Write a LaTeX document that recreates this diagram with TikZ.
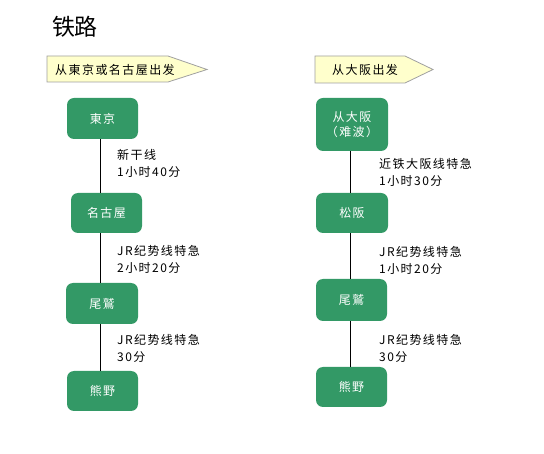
\documentclass[tikz,border=0pt]{standalone}
\usepackage{fontspec}
\setmainfont{Noto Sans CJK SC}
\newfontfamily\widecjk[LetterSpace=12]{Noto Sans CJK SC}
\definecolor{boxgreen}{HTML}{339966}
\definecolor{bannerfill}{HTML}{FFFFCC}
\definecolor{bannerline}{HTML}{A0A0A0}
\begin{document}
\begin{tikzpicture}[x=1pt,y=-1pt,
  station/.style={fill=boxgreen, rounded corners=7pt, text=white, font=\widecjk\fontsize{12}{15}\selectfont, align=center, inner sep=0pt},
  route/.style={anchor=west, align=left, font=\widecjk\fontsize{12}{17}\selectfont, inner sep=0pt},
  bannertext/.style={anchor=west, font=\widecjk\fontsize{12}{14}\selectfont, inner sep=0pt},
  conn/.style={draw=black, line width=0.8pt},
  banner/.style={fill=bannerfill, draw=bannerline, line width=0.8pt}]
\useasboundingbox (0,0) rectangle (544,454);
\node[anchor=center, font=\fontsize{23}{26}\selectfont, inner sep=0pt] (title) at (75,27) {铁路};
% banners
\draw[banner] (47,56) -- (168,56) -- (207,69.5) -- (168,82) -- (47,82) -- cycle;
\node[bannertext] (b1) at (55,69.5) {从東京或名古屋出发};
\draw[banner] (315,56) -- (405,56) -- (433,69.5) -- (405,83) -- (315,83) -- cycle;
\node[bannertext] (b2) at (332,69.5) {从大阪出发};
% left column
\coordinate (L) at (100,0);
\node[station, minimum width=71pt, minimum height=41pt] (tokyo) at (102.5,118.5) {東京};
\node[station, minimum width=71pt, minimum height=40pt] (nagoya) at (106.5,213) {名古屋};
\node[station, minimum width=72pt, minimum height=41pt] (owase1) at (102,303.5) {尾鷲};
\node[station, minimum width=71pt, minimum height=40pt] (kumano1) at (102.5,391) {熊野};
\draw[conn] (tokyo.south -| L) -- (nagoya.north -| L);
\draw[conn] (nagoya.south -| L) -- (owase1.north -| L);
\draw[conn] (owase1.south -| L) -- (kumano1.north -| L);
\node[route] (r1) at (117,163.5) {新干线\\1小时40分};
\node[route] (r2) at (117,259) {JR纪势线特急\\2小时20分};
\node[route] (r3) at (117,348) {JR纪势线特急\\30分};
% right column
\coordinate (R) at (350,0);
\node[station, minimum width=72pt, minimum height=53pt] (osaka) at (352,124.5) {从大阪\\（难波）};
\node[station, minimum width=72pt, minimum height=40pt] (matsusaka) at (352,213) {松阪};
\node[station, minimum width=71pt, minimum height=42pt] (owase2) at (351.5,300) {尾鷲};
\node[station, minimum width=71pt, minimum height=40pt] (kumano2) at (351.5,387) {熊野};
\draw[conn] (osaka.south -| R) -- (matsusaka.north -| R);
\draw[conn] (matsusaka.south -| R) -- (owase2.north -| R);
\draw[conn] (owase2.south -| R) -- (kumano2.north -| R);
\node[route] (r4) at (379,172.5) {近铁大阪线特急\\1小时30分};
\node[route] (r5) at (379,260.5) {JR纪势线特急\\1小时20分};
\node[route] (r6) at (379,348) {JR纪势线特急\\30分};
\end{tikzpicture}
\end{document}
